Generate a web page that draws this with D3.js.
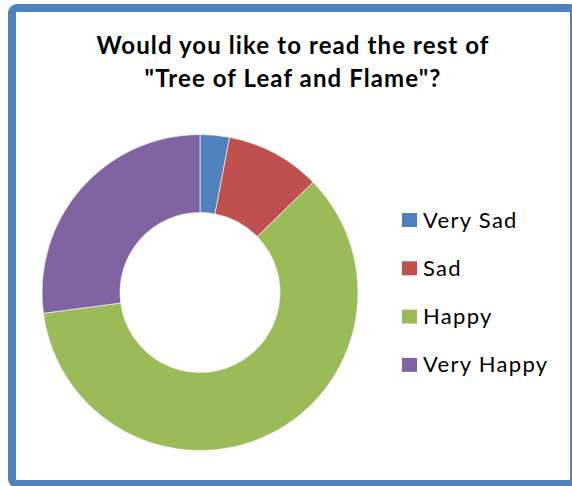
<!DOCTYPE html>
<html>
<head>
<meta charset="utf-8">
<script src="https://cdn.jsdelivr.net/npm/d3@7"></script>
<style>
  body { margin: 0; background: #fff; }
  svg { display: block; }
</style>
</head>
<body>
<svg id="chart" width="572" height="486"></svg>
<script>
var categories = ['Very Sad', 'Sad', 'Happy', 'Very Happy'];
var values = [3.0, 9.7, 60.2, 27.1];
var colors = ['#4F81BD', '#C0504D', '#9BBB59', '#8064A2'];
var titleLines = ['Would you like to read the rest of', '"Tree of Leaf and Flame"?'];

var data = categories.map(function (c, i) {
  return { name: c, value: values[i] };
});

var svg = d3.select('#chart');

// frame
svg.append('rect')
  .attr('x', 12)
  .attr('y', 8)
  .attr('width', 562)
  .attr('height', 476)
  .attr('rx', 5)
  .attr('fill', '#fff')
  .attr('stroke', '#4F81BD')
  .attr('stroke-width', 8);

svg.append('text')
  .attr('x', 293)
  .attr('y', 54)
  .attr('text-anchor', 'middle')
  .attr('font-family', 'Lato')
  .attr('font-weight', 'bold')
  .attr('font-size', '24px')
  .attr('letter-spacing', '1.1px')
  .selectAll('tspan')
  .data(titleLines)
  .enter()
  .append('tspan')
  .attr('x', 293)
  .attr('dy', function (d, i) { return i === 0 ? 0 : 33; })
  .text(function (d) { return d; });

var color = d3.scaleOrdinal().domain(categories).range(colors);

var pie = d3.pie()
  .sort(null)
  .value(function (d) { return d.value; });

var arc = d3.arc()
  .innerRadius(80)
  .outerRadius(158);

var g = svg.append('g')
  .attr('transform', 'translate(200, 292.5)');

g.selectAll('path')
  .data(pie(data))
  .enter()
  .append('path')
  .attr('d', arc)
  .attr('fill', function (d) { return color(d.data.name); })
  .attr('stroke', '#fff')
  .attr('stroke-width', 0.6);

var legend = svg.append('g')
  .attr('transform', 'translate(402, 220)');

var item = legend.selectAll('g')
  .data(categories)
  .enter()
  .append('g')
  .attr('transform', function (d, i) { return 'translate(0, ' + (i * 48.3) + ')'; });

item.append('rect')
  .attr('x', 0)
  .attr('y', -7)
  .attr('width', 15)
  .attr('height', 14)
  .attr('fill', function (d) { return color(d); });

item.append('text')
  .attr('x', 21)
  .attr('y', 7.5)
  .attr('font-family', 'Lato')
  .attr('font-size', '22px')
  .attr('letter-spacing', '1.3px')
  .attr('fill', '#000')
  .text(function (d) { return d; });
</script>
</body>
</html>
